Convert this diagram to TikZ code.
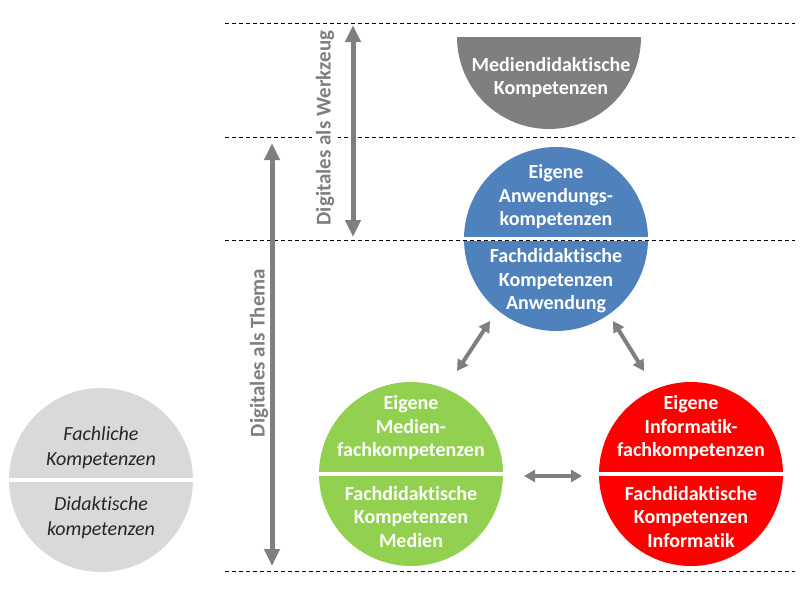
\documentclass[tikz,border=0pt]{standalone}
\usepackage{fontspec}
\setmainfont{Carlito}[Ligatures=NoCommon]
\usetikzlibrary{arrows.meta}
\definecolor{cblue}{HTML}{4F81BD}
\definecolor{cgreen}{HTML}{92D050}
\definecolor{cred}{HTML}{FF0000}
\definecolor{cgray}{HTML}{7F7F7F}
\definecolor{clight}{HTML}{D9D9D9}
\definecolor{ctext}{HTML}{262626}
\tikzset{
  bigcirc/.style={circle, minimum size=184pt, inner sep=0pt, draw=none},
  stripe/.style={white, line width=4pt},
  wtext/.style={text=white, font=\fontsize{20}{23.5}\selectfont\bfseries, align=center, inner sep=0pt},
  itext/.style={text=ctext, font=\fontsize{20}{25}\selectfont\itshape, align=center, inner sep=0pt},
  sep/.style={black, line width=0.8pt, dash pattern=on 4pt off 3pt},
  bigarrow/.style={cgray, line width=5pt, {Triangle[length=17pt,width=15pt]}-{Triangle[length=17pt,width=15pt]}},
  smallarrow/.style={cgray, line width=4pt, {Triangle[length=11pt,width=12pt]}-{Triangle[length=11pt,width=12pt]}},
  vlabel/.style={text=cgray, fill=white, font=\fontsize{21}{23}\selectfont\bfseries, rotate=90, inner xsep=1pt, inner ysep=4pt}
}
\begin{document}
\begin{tikzpicture}[x=1pt,y=-1pt]
\useasboundingbox (0,0) rectangle (800,600);

% half circle
\begin{scope}
\clip (457,37) rectangle (641,140);
\fill[cgray] (549,37) circle[radius=92];
\end{scope}
\node[wtext] (medt) at (551,77.5) {Mediendidaktische\\Kompetenzen};

% circles
\node[bigcirc, fill=cblue] (blue) at (556,239) {};
\node[bigcirc, fill=cgreen] (green) at (411,474) {};
\node[bigcirc, fill=cred] (red) at (691,474) {};
\node[bigcirc, fill=clight] (grey) at (101,480) {};
\draw[stripe] (blue.west) -- (blue.east);
\draw[stripe] (green.west) -- (green.east);
\draw[stripe] (red.west) -- (red.east);
\draw[stripe] (grey.west) -- (grey.east);

% dashed lines
\coordinate (l1a) at (225,23);  \coordinate (l1b) at (795,23);
\coordinate (l2a) at (225,137); \coordinate (l2b) at (795,137);
\coordinate (l3a) at (225,240); \coordinate (l3b) at (795,240);
\coordinate (l4a) at (225,571); \coordinate (l4b) at (795,571);
\draw[sep] (l1a) -- (l1b);
\draw[sep] (l2a) -- (l2b);
\draw[sep] (l3a) -- (l3b);
\draw[sep] (l4a) -- (l4b);

% texts
\node[wtext] (bt) at (556,197) {Eigene\\Anwendungs-\\kompetenzen};
\node[wtext] (bb) at (556,281) {Fachdidaktische\\Kompetenzen\\Anwendung};
\node[wtext] (gt) at (411,428) {Eigene\\Medien-\\fachkompetenzen};
\node[wtext] (gb) at (411,517) {Fachdidaktische\\Kompetenzen\\Medien};
\node[wtext] (rt) at (691,428) {Eigene\\Informatik-\\fachkompetenzen};
\node[wtext] (rb) at (691,517) {Fachdidaktische\\Kompetenzen\\Informatik};
\node[itext] (gyt) at (101,447.5) {Fachliche\\Kompetenzen};
\node[itext] (gyb) at (101,517.5) {Didaktische\\kompetenzen};

% vertical labels and arrows
\node[vlabel] (wl) at (325,128) {Digitales als Werkzeug};
\node[vlabel] (tl) at (259,353) {Digitales als Thema};
\coordinate (w1) at (353,25);  \coordinate (w2) at (353,237);
\coordinate (t1) at (272,143); \coordinate (t2) at (272,566);
\draw[bigarrow] (w1) -- (w2);
\draw[bigarrow] (t1) -- (t2);

% small arrows
\coordinate (a1) at (490,321); \coordinate (a2) at (457,371);
\coordinate (b1) at (613,321); \coordinate (b2) at (644,371);
\coordinate (c1) at (524,476); \coordinate (c2) at (582,476);
\draw[smallarrow] (a1) -- (a2);
\draw[smallarrow] (b1) -- (b2);
\draw[smallarrow] (c1) -- (c2);
\end{tikzpicture}
\end{document}
